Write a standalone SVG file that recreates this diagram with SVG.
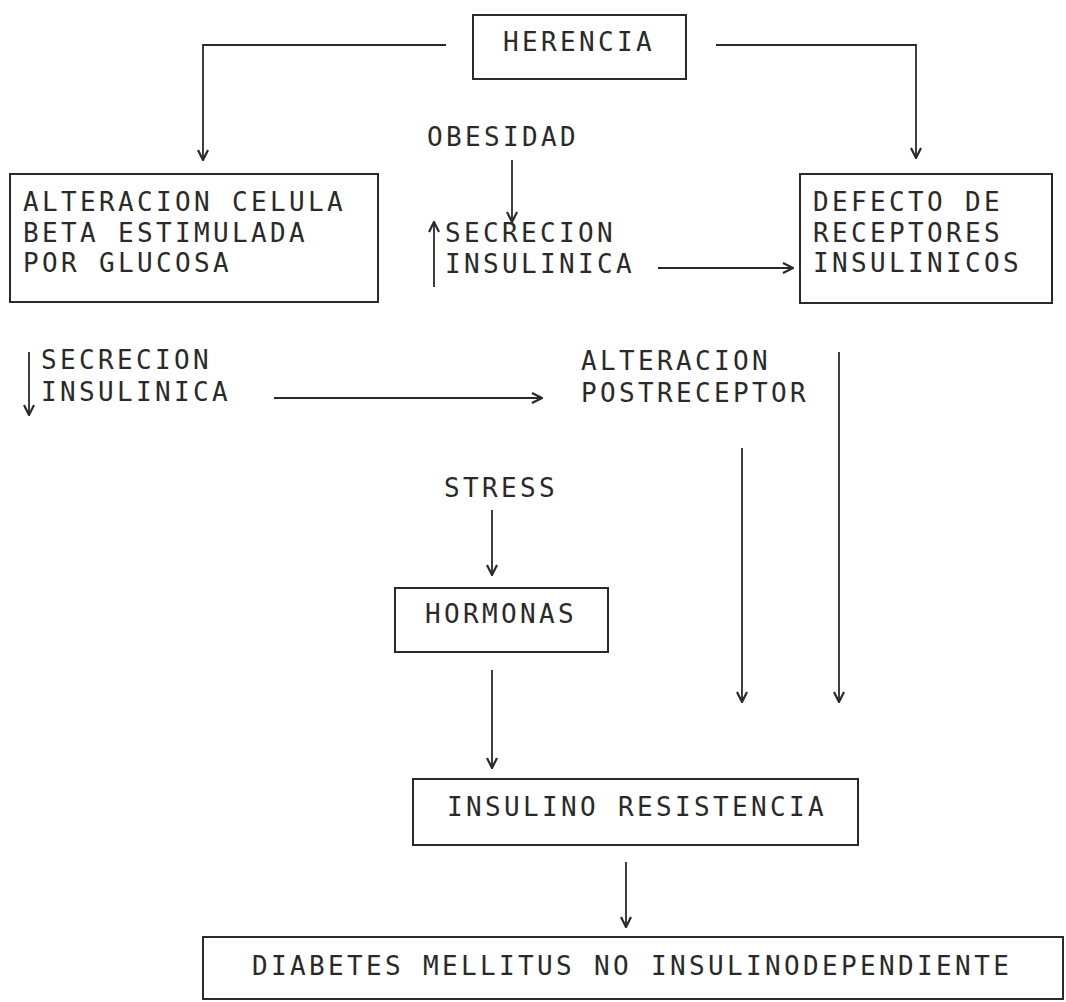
<svg xmlns="http://www.w3.org/2000/svg" width="1066" height="1002" viewBox="0 0 1066 1002">
<defs>
<style>
.box{fill:none;stroke:#2a2a2a;stroke-width:2}
.t{font-family:"DejaVu Sans Mono","Liberation Mono",monospace;font-size:26px;letter-spacing:3.35px;fill:#2a2a2a}
.c{fill:none;stroke:#2a2a2a;stroke-width:1.8;marker-end:url(#ah)}
</style>
<marker id="ah" viewBox="0 0 12 12" refX="11" refY="6" markerWidth="12" markerHeight="12" markerUnits="userSpaceOnUse" orient="auto">
<path d="M1,1 L11,6 L1,11" fill="none" stroke="#2a2a2a" stroke-width="2.2"/>
</marker>
</defs>
<rect width="1066" height="1002" fill="#ffffff"/>
<g id="connectors">
<path class="c" d="M446,45 H203 V160"/>
<path class="c" d="M716,45 H916 V158"/>
<path class="c" d="M512,160 V222"/>
<path class="c" d="M434,287 V222"/>
<path class="c" d="M658,268 H793"/>
<path class="c" d="M29,352 V415"/>
<path class="c" d="M274,398 H542"/>
<path class="c" d="M742,448 V702"/>
<path class="c" d="M839,352 V702"/>
<path class="c" d="M492,510 V575"/>
<path class="c" d="M492,670 V768"/>
<path class="c" d="M626,862 V927"/>
</g>
<g id="herencia">
<rect class="box" x="473" y="15" width="213" height="64"/>
<text class="t" x="503" y="51">HERENCIA</text>
</g>
<g id="obesidad">
<text class="t" x="427" y="146">OBESIDAD</text>
</g>
<g id="alteracion-celula">
<rect class="box" x="10" y="174" width="368" height="128"/>
<text class="t" x="23" y="211">ALTERACION CELULA</text>
<text class="t" x="23" y="242">BETA ESTIMULADA</text>
<text class="t" x="23" y="272">POR GLUCOSA</text>
</g>
<g id="secrecion-up">
<text class="t" x="445" y="242">SECRECION</text>
<text class="t" x="445" y="273">INSULINICA</text>
</g>
<g id="defecto-receptores">
<rect class="box" x="800" y="174" width="252" height="129"/>
<text class="t" x="813" y="211">DEFECTO DE</text>
<text class="t" x="813" y="242">RECEPTORES</text>
<text class="t" x="813" y="272">INSULINICOS</text>
</g>
<g id="secrecion-down">
<text class="t" x="41" y="369">SECRECION</text>
<text class="t" x="41" y="401">INSULINICA</text>
</g>
<g id="postreceptor">
<text class="t" x="581" y="370">ALTERACION</text>
<text class="t" x="581" y="402">POSTRECEPTOR</text>
</g>
<g id="stress">
<text class="t" x="444" y="497">STRESS</text>
</g>
<g id="hormonas">
<rect class="box" x="395" y="588" width="213" height="64"/>
<text class="t" x="425" y="623">HORMONAS</text>
</g>
<g id="insulino-resistencia">
<rect class="box" x="413" y="779" width="445" height="66"/>
<text class="t" x="447" y="816">INSULINO RESISTENCIA</text>
</g>
<g id="diabetes">
<rect class="box" x="203" y="937" width="860" height="62"/>
<text class="t" x="252" y="975">DIABETES MELLITUS NO INSULINODEPENDIENTE</text>
</g>
</svg>
